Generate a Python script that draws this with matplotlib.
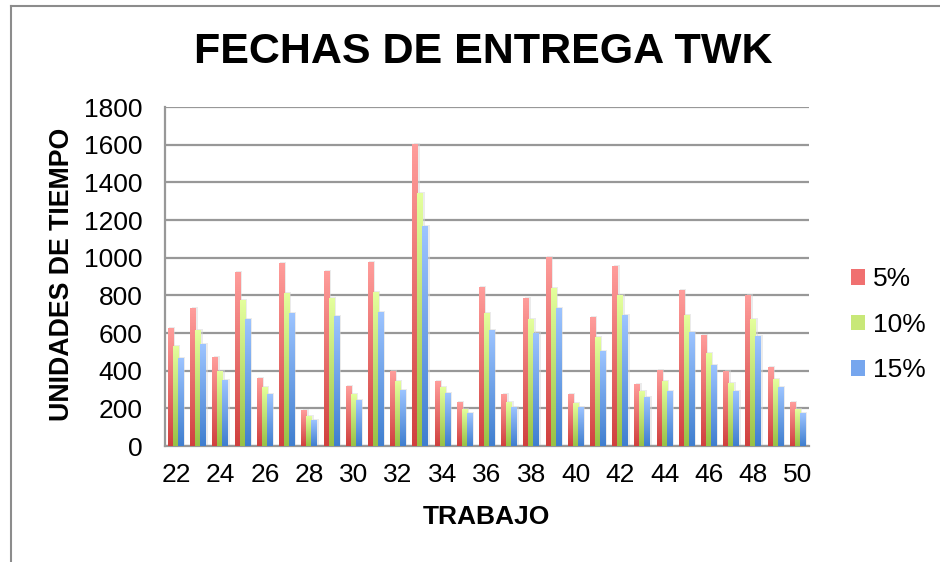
import numpy as np
import matplotlib
matplotlib.use('Agg')
import matplotlib.pyplot as plt
from matplotlib.colors import LinearSegmentedColormap
from matplotlib.patches import Patch
from matplotlib.lines import Line2D

plt.rcParams['font.family'] = ['Liberation Sans', 'DejaVu Sans']

# trabajos 22..50
trabajos = list(range(22, 51))

# unidades de tiempo
t5 = [626, 732, 472, 923, 361, 971, 186, 928, 318, 976, 396, 1602, 345, 233, 843,
      276, 785, 1003, 276, 684, 955, 329, 403, 828, 589, 398, 801, 419, 233]
t10 = [530, 615, 398, 775, 308, 812, 154, 785, 271, 817, 340, 1342, 308, 196, 706,
       233, 674, 838, 228, 578, 801, 292, 340, 695, 493, 334, 674, 355, 196]
t15 = [467, 541, 350, 674, 276, 706, 138, 690, 239, 711, 297, 1167, 281, 170, 615,
       202, 600, 732, 202, 504, 695, 260, 292, 605, 430, 292, 584, 308, 175]

series = ['5%', '10%', '15%']
# colores (abajo, arriba) del degradado tipo excel
grads = [('#d0403e', '#ff9d9b'), ('#98c145', '#e4ff9d'), ('#3f7ecf', '#9dc4ff')]
mids = ['#f07070', '#c8e878', '#76a6ee']

fig = plt.figure(figsize=(9.4, 5.62), dpi=100)
ax = fig.add_axes([0.1755, 0.2064, 0.6851, 0.6032])

x = np.arange(len(trabajos))
width = 0.27
offsets = [-0.225, 0.0, 0.225]
grad = np.linspace(0, 1, 256).reshape(-1, 1)

for k, vals in enumerate([t5, t10, t15]):
    cmap = LinearSegmentedColormap.from_list('g%d' % k, grads[k])
    for i, v in enumerate(vals):
        x0 = x[i] + offsets[k] - width / 2
        # sombra suave
        ax.add_patch(plt.Rectangle((x0 + 0.06, 0), width, v + 8, color='#d8d8d8',
                                   alpha=0.5, lw=0, zorder=2))
        ax.imshow(grad, extent=(x0, x0 + width, 0, v), origin='lower', aspect='auto',
                  cmap=cmap, zorder=3 + k)

ax.set_xlim(-0.5, len(trabajos) - 0.5)
ax.set_ylim(0, 1800)
ax.set_yticks(range(0, 1801, 200))
ax.set_xticks(x[::2])
ax.set_xticklabels([str(t) for t in trabajos[::2]])
ax.tick_params(axis='both', length=0, labelsize=19)
ax.tick_params(axis='x', pad=12)
ax.tick_params(axis='y', pad=16)

ax.grid(axis='y', color='#989898', linewidth=1.6)
ax.set_axisbelow(True)
for s in ['top', 'right']:
    ax.spines[s].set_visible(False)
for s in ['left', 'bottom']:
    ax.spines[s].set_color('#989898')
    ax.spines[s].set_linewidth(1.6)

fig.text(0.514, 0.907, 'FECHAS DE ENTREGA TWK', ha='center', va='center',
         fontsize=31, fontweight='bold')
fig.text(0.066, 0.511, 'UNIDADES DE TIEMPO', ha='center', va='center', rotation=90,
         fontsize=19.3, fontweight='bold')
fig.text(0.518, 0.080, 'TRABAJO', ha='center', va='center',
         fontsize=19, fontweight='bold')

handles = [Patch(facecolor=mids[k], edgecolor='none') for k in range(3)]
fig.legend(handles, series, loc='upper left', bbox_to_anchor=(0.891, 0.548),
           frameon=False, fontsize=19, handlelength=0.55, handleheight=0.55,
           handletextpad=0.3, labelspacing=0.82, borderpad=0)

# marco del grafico
fig.add_artist(Line2D([11 / 940, 11 / 940], [0, 1 - 6 / 562], color='#8c8c8c', lw=1.5))
fig.add_artist(Line2D([11 / 940, 1], [1 - 6 / 562, 1 - 6 / 562], color='#8c8c8c', lw=1.5))

fig.savefig('out.png', dpi=100)
